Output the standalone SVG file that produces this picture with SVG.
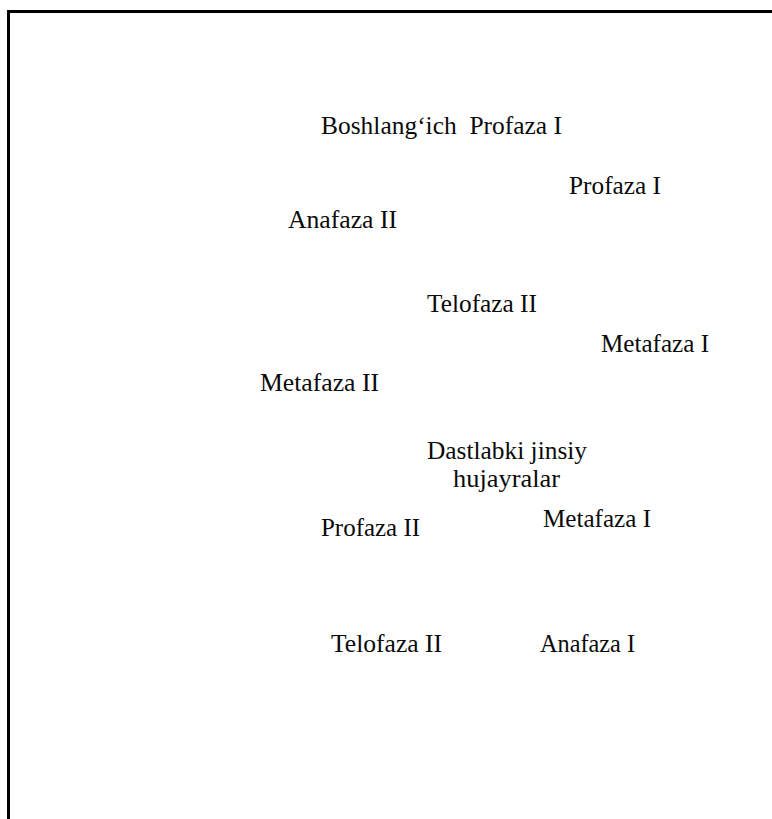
<svg xmlns="http://www.w3.org/2000/svg" width="772" height="819" viewBox="0 0 772 819">
<style>
.t{font-family:"Liberation Serif","Times New Roman",serif;font-size:26px;fill:#0a0a0a;}
.frame{fill:none;stroke:#000;stroke-width:3;}
</style>
<rect width="772" height="819" fill="#fff"/>
<path class="frame" d="M8.5,819 V11.5 H772"/>
<g id="n1"><text class="t" x="321" y="134" textLength="241" lengthAdjust="spacingAndGlyphs" xml:space="preserve">Boshlang‘ich  Profaza I</text></g>
<g id="n2"><text class="t" x="569" y="194" textLength="92" lengthAdjust="spacingAndGlyphs">Profaza I</text></g>
<g id="n3"><text class="t" x="288" y="228" textLength="109" lengthAdjust="spacingAndGlyphs">Anafaza II</text></g>
<g id="n4"><text class="t" x="427" y="312" textLength="110" lengthAdjust="spacingAndGlyphs">Telofaza II</text></g>
<g id="n5"><text class="t" x="601" y="352" textLength="108" lengthAdjust="spacingAndGlyphs">Metafaza I</text></g>
<g id="n6"><text class="t" x="260" y="391" textLength="119" lengthAdjust="spacingAndGlyphs">Metafaza II</text></g>
<g id="n7"><text class="t" x="427" y="459" textLength="160" lengthAdjust="spacingAndGlyphs">Dastlabki jinsiy</text><text class="t" x="453" y="487" textLength="107" lengthAdjust="spacingAndGlyphs">hujayralar</text></g>
<g id="n8"><text class="t" x="543" y="527" textLength="108" lengthAdjust="spacingAndGlyphs">Metafaza I</text></g>
<g id="n9"><text class="t" x="321" y="536" textLength="99" lengthAdjust="spacingAndGlyphs">Profaza II</text></g>
<g id="n10"><text class="t" x="331" y="652" textLength="111" lengthAdjust="spacingAndGlyphs">Telofaza II</text></g>
<g id="n11"><text class="t" x="540" y="652" textLength="95" lengthAdjust="spacingAndGlyphs">Anafaza I</text></g>
<g id="connectors"></g>
</svg>
